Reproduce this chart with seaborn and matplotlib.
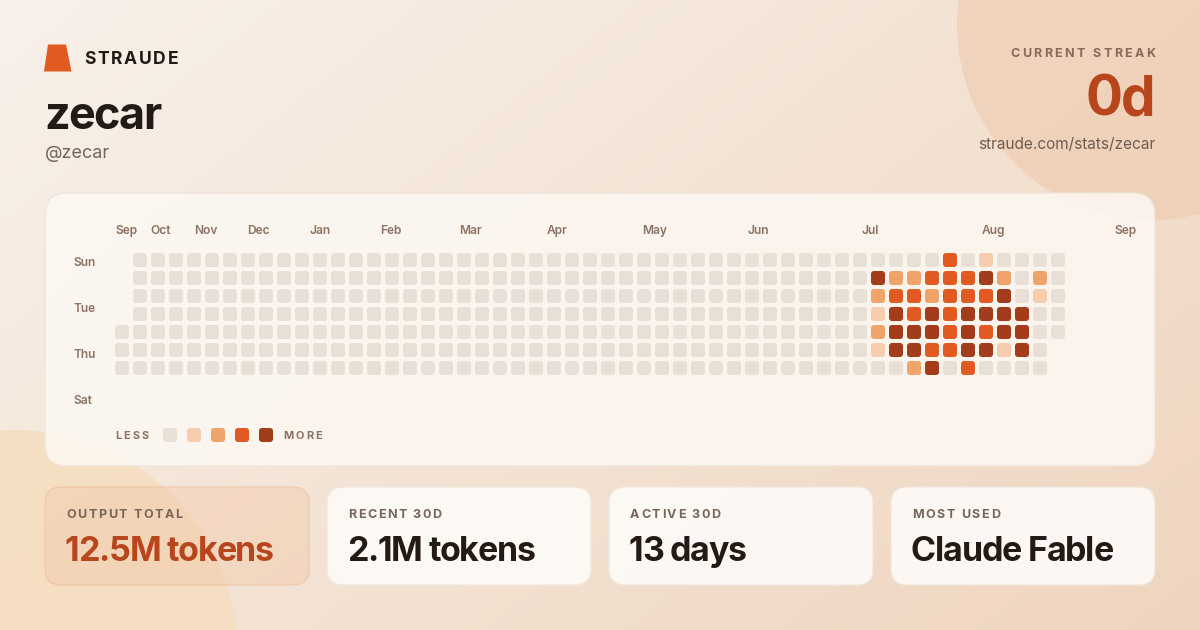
import numpy as np
import pandas as pd
import matplotlib
matplotlib.use("Agg")
import matplotlib.pyplot as plt
import seaborn as sns
from matplotlib.patches import FancyBboxPatch, Polygon, Circle
from matplotlib.path import Path
from matplotlib.font_manager import FontProperties, findfont, get_font
from matplotlib.colors import to_rgb

# ---------------- data ----------------
brand_name = "STRAUDE"
user_name = "zecar"
user_handle = "@zecar"
streak_label = "CURRENT STREAK"
streak_value = "0d"
profile_url = "straude.com/stats/zecar"

# activity level per day (rows Sun..Sat, one char per week, '.' = no day)
day_rows = [
    "." "0000000000" "0000000000" "0000000000" "0000000000" "0" "00003010000",
    "." "0000000000" "0000000000" "0000000000" "0000000000" "0" "42233342020",
    "." "0000000000" "0000000000" "0000000000" "0000000000" "0" "23323334010",
    "." "0000000000" "0000000000" "0000000000" "0000000000" "0" "14343444400",
    "0" "0000000000" "0000000000" "0000000000" "0000000000" "0" "24443434400",
    "0" "0000000000" "0000000000" "0000000000" "0000000000" "0" "1443344140.",
    "0" "0000000000" "0000000000" "0000000000" "0000000000" "0" "0024030000.",
]
level_colors = ["#e8e0d6", "#f6cdae", "#efa46c", "#e05a22", "#a33c1b"]
month_labels = ["Sep", "Oct", "Nov", "Dec", "Jan", "Feb", "Mar", "Apr",
                "May", "Jun", "Jul", "Aug", "Sep"]
day_labels = ["Sun", "Tue", "Thu", "Sat"]
legend_less, legend_more = "LESS", "MORE"
stat_labels = ["OUTPUT TOTAL", "RECENT 30D", "ACTIVE 30D", "MOST USED"]
stat_values = ["12.5M tokens", "2.1M tokens", "13 days", "Claude Fable"]

# ---------------- layout (pixels) ----------------
W, H = 1200, 630
month_label_x = [115, 150, 194, 247, 309, 380, 459, 547, 642, 747, 861, 982, 1114]
day_label_baselines = [266.5, 312.5, 358.5, 404.5]

records = []
for d, row in enumerate(day_rows):
    for w, ch in enumerate(row):
        if ch != ".":
            records.append({"week": w, "day": d, "level": int(ch)})
df = pd.DataFrame(records)

FAMILY = "Inter"

fig = plt.figure(figsize=(12, 6.3), dpi=100)
ax = fig.add_axes([0, 0, 1, 1])

# background gradient
c0 = np.array(to_rgb("#f8f1ea"))
c1 = np.array(to_rgb("#efd5bf"))
yy, xx = np.mgrid[0:H, 0:W]
t = np.clip((xx / W) * 0.6 + (yy / H) * 0.4, 0, 1)[..., None]
img = c0 * (1 - t) + c1 * t
ax.imshow(img, extent=[0, W, H, 0], zorder=0, aspect="auto")
ax.set_xlim(0, W)
ax.set_ylim(H, 0)
ax.axis("off")

ax.add_patch(Circle((1152, 25), 195, facecolor="#efcbb0", alpha=0.62, lw=0, zorder=1))
ax.add_patch(Circle((15, 652), 222, facecolor="#f6ddbd", alpha=0.8, lw=0, zorder=1))


def ttext(x, y, s, size_px, color, weight="bold", track=0.0, ha="left", zorder=6):
    fp = FontProperties(family=FAMILY, weight=weight, size=size_px * 0.72)
    if track == 0.0:
        ax.text(x, y, s, fontproperties=fp, color=color, ha=ha, va="baseline", zorder=zorder)
        return
    font = get_font(findfont(fp))
    font.set_size(size_px * 0.72, 100)
    adv = [font.load_char(ord(c)).linearHoriAdvance / 65536 for c in s]
    sp = track * size_px
    total = sum(adv) + sp * (len(s) - 1)
    x0 = x if ha == "left" else (x - total if ha == "right" else x - total / 2)
    cx = x0
    for c, a in zip(s, adv):
        if c != " ":
            ax.text(cx, y, c, fontproperties=fp, color=color, ha="left",
                    va="baseline", zorder=zorder)
        cx += a + sp


# header
ax.add_patch(Polygon([(48, 44.5), (66, 44.5), (71.5, 71.5), (44, 71.5)],
                     closed=True, facecolor="#e05a22", lw=0, zorder=5))
ttext(84, 64, brand_name, 17.5, "#231a15", track=0.1)
ttext(44, 129, user_name, 45, "#231a15", weight="bold", track=-0.035)
ttext(45, 158, user_handle, 18, "#76655a", weight="normal")
ttext(1155, 57, streak_label, 12.5, "#86695a", track=0.19, ha="right")
ttext(1156, 115, streak_value, 55, "#b8461c", track=-0.03, ha="right")
ttext(1155, 149, profile_url, 15.4, "#6f5d52", weight="normal", ha="right")

# heatmap card
ax.add_patch(FancyBboxPatch((45, 193), 1110, 273, boxstyle="round,pad=0,rounding_size=22",
                            facecolor="#fdf8f3", alpha=0.85, edgecolor="#efe3d8",
                            lw=1.0, zorder=2))

label_col = "#8c7262"
for lab, x in zip(month_labels, month_label_x):
    ttext(x, 234, lab, 12, label_col, weight="semibold")
for lab, yb in zip(day_labels, day_label_baselines):
    ttext(73, yb, lab, 12, label_col, weight="semibold")

# legend
ttext(115, 439, legend_less, 11, label_col, track=0.2)
for i, col in enumerate(level_colors):
    ax.add_patch(FancyBboxPatch((163 + 24 * i, 428), 14, 14,
                                boxstyle="round,pad=0,rounding_size=3",
                                facecolor=col, lw=0, zorder=4))
ttext(283, 439, legend_more, 11, label_col, track=0.2)

# stat cards
card_x = [45, 327, 609, 891]
for i, (lab, val, x) in enumerate(zip(stat_labels, stat_values, card_x)):
    if i == 0:
        fc, ec, al, vc = "#f2c9aa", "#eeb690", 0.45, "#b8461c"
    else:
        fc, ec, al, vc = "#fefbf8", "#f1e6dc", 0.9, "#231a15"
    ax.add_patch(FancyBboxPatch((x, 487), 264, 98, boxstyle="round,pad=0,rounding_size=16",
                                facecolor=fc, alpha=al, edgecolor=ec, lw=1.0, zorder=2))
    ttext(x + 21, 518, lab, 12.5, "#76655a", track=0.13)
    ttext(x + 20, 561, val, 34, vc, track=-0.035)

# heatmap cells via seaborn
hm = fig.add_axes([113 / W, 1 - 377 / H, 954 / W, 126 / H], zorder=3)
hm.patch.set_alpha(0)


def rounded_square(r=0.43):
    a, b = 1.0, 1.0 - r
    verts = [(-b, -a), (b, -a), (a, -a), (a, -b), (a, b), (a, a), (b, a), (-b, a),
             (-a, a), (-a, b), (-a, -b), (-a, -a), (-b, -a), (-b, -a)]
    codes = [Path.MOVETO, Path.LINETO, Path.CURVE3, Path.CURVE3, Path.LINETO,
             Path.CURVE3, Path.CURVE3, Path.LINETO, Path.CURVE3, Path.CURVE3,
             Path.LINETO, Path.CURVE3, Path.CURVE3, Path.CLOSEPOLY]
    return Path(verts, codes)


cell_pt = 14 * 72 / 100
sns.scatterplot(data=df, x="week", y="day", hue="level",
                palette=dict(enumerate(level_colors)), marker=rounded_square(),
                s=cell_pt ** 2, linewidth=0, legend=False, ax=hm)
hm.set_xlim(-0.5, 52.5)
hm.set_ylim(6.5, -0.5)
hm.axis("off")

fig.savefig("out.png", dpi=100)
